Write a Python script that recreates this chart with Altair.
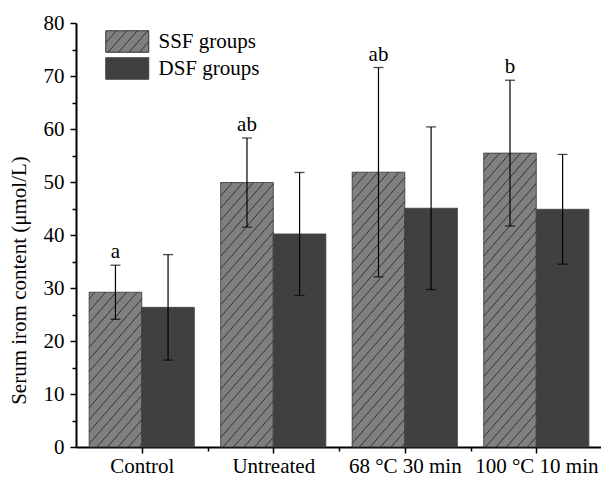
import json
import altair as alt
import pandas as pd

# ---- data ----
categories = ["Control", "Untreated", "68 °C 30 min", "100 °C 10 min"]
ssf_mean = [29.2, 49.9, 51.85, 55.45]
ssf_sd = [5.1, 8.4, 19.75, 13.75]
dsf_mean = [26.35, 40.2, 45.05, 44.85]
dsf_sd = [9.95, 11.6, 15.35, 10.35]
letters = ["a", "ab", "ab", "b"]
groups = ["SSF groups", "DSF groups"]

# ---- layout ----
W, H = 525, 424
XMAX = 3.992
YMAX = 80
PX_X = W / XMAX      # px per x unit
PX_Y = H / YMAX      # px per y unit
FONT = "Liberation Serif"
FS = 21

rows = []
for i, c in enumerate(categories):
    for g, m, s, off in ((groups[0], ssf_mean[i], ssf_sd[i], 0.1),
                         (groups[1], dsf_mean[i], dsf_sd[i], 0.5)):
        rows.append(dict(cat=c, group=g, mean=m, lo=m - s, hi=m + s,
                         x=i + off, x2=i + off + 0.4, xc=i + off + 0.2, y0=0,
                         letter=letters[i] if g == groups[0] else ""))
df = pd.DataFrame(rows)

# hatch segments (pattern "/" clipped to each SSF bar), derived from the bars
K = 1.15     # slope in px
D = 10.5     # horizontal spacing in px
hatch = []
for r in rows:
    if r["group"] != groups[0]:
        continue
    xl, xr = r["x"] * PX_X, r["x2"] * PX_X
    h = r["mean"] * PX_Y
    j0 = int((xl - h / K) // D) - 1
    j1 = int(xr // D) + 1
    for j in range(j0, j1 + 1):
        c = j * D
        a, b = max(xl, c), min(xr, c + h / K)
        if b - a > 0.5:
            hatch.append(dict(hx=a / PX_X, hx2=b / PX_X,
                              hy=K * (a - c) / PX_Y, hy2=K * (b - c) / PX_Y))
hdf = pd.DataFrame(hatch)

# legend symbol: rectangle (2:1) with hatch lines
parts = ["M-1,-1H3V1H-1Z"]
u = 21.5 / 2
dd = D / u
k = K
cc = -1 - 2 / k
while cc < 3:
    a, b = max(-1, cc), min(3, cc + 2 / k)
    if b - a > 0.05:
        ya, yb = 1 - k * (a - cc), 1 - k * (b - cc)
        parts.append(f"M{a:.3f},{ya:.3f}L{b:.3f},{yb:.3f}")
    cc += dd
sym_path = "".join(parts)

xscale = alt.Scale(domain=[0, XMAX], nice=False, zero=False)
yscale = alt.Scale(domain=[0, YMAX], nice=False)

label_expr = json.dumps(categories) + "[floor(datum.value)]"

legend_kw = dict(title=None, orient="none", legendX=29, legendY=7,
                 symbolType=sym_path, symbolSize=462, symbolStrokeWidth=1,
                 labelOffset=30.5, labelFont=FONT, labelFontSize=FS,
                 labelColor="black", rowPadding=0, symbolOpacity=1)

bars = alt.Chart(df).mark_bar(strokeWidth=0.8).encode(
    x=alt.X("x:Q", scale=xscale, axis=alt.Axis(
        orient="bottom", values=[0.5, 1.5, 2.5, 3.5], labelExpr=label_expr,
        title=None, grid=False, tickSize=6, tickWidth=1.5, domainWidth=2,
        domainColor="black", tickColor="black", labelColor="black",
        labelFont=FONT, labelFontSize=FS, labelPadding=2,
        labelOverlap=False, labelBound=False, labelFlush=False)),
    x2="x2:Q",
    y=alt.Y("mean:Q", scale=yscale, axis=alt.Axis(
        orient="left", values=list(range(0, 81, 10)), grid=False,
        title="Serum irom content (μmol/L)", titleFont=FONT, titleFontSize=FS,
        titleFontWeight="normal", titleColor="black", titleX=-57, titleY=257,
        titleAngle=-90, titleAlign="center", titleBaseline="middle",
        tickSize=6, tickWidth=1.5, domainWidth=2, domainColor="black",
        tickColor="black", labelColor="black", labelFont=FONT,
        labelFontSize=FS, labelPadding=6, labelFlush=False)),
    y2="y0:Q",
    fill=alt.Fill("group:N", scale=alt.Scale(domain=groups, range=["#808080", "#404040"]),
                  legend=alt.Legend(**legend_kw)),
    stroke=alt.Stroke("group:N", scale=alt.Scale(domain=groups, range=["#333333", "#404040"]),
                      legend=alt.Legend(**legend_kw)),
)

hatch_layer = alt.Chart(hdf).mark_rule(color="#2b2b2b", strokeWidth=0.9).encode(
    x=alt.X("hx:Q", scale=xscale, axis=alt.Axis(
        orient="bottom", values=[1, 2, 3], labels=False, domain=False,
        grid=False, title=None, tickSize=4, tickWidth=1.5, tickColor="black")),
    x2="hx2:Q",
    y=alt.Y("hy:Q", scale=yscale, axis=alt.Axis(
        orient="left", values=list(range(5, 80, 10)), labels=False, domain=False,
        grid=False, title=None, tickSize=4, tickWidth=1.5, tickColor="black")),
    y2="hy2:Q",
)

err = alt.Chart(df).mark_rule(color="black", strokeWidth=1.2).encode(
    x=alt.X("xc:Q", scale=xscale, axis=None),
    y=alt.Y("lo:Q", scale=yscale, axis=None),
    y2="hi:Q",
)
cap_hi = alt.Chart(df).mark_tick(color="black", orient="horizontal", size=10, thickness=1.3).encode(
    x=alt.X("xc:Q", scale=xscale, axis=None),
    y=alt.Y("hi:Q", scale=yscale, axis=None),
)
cap_lo = alt.Chart(df).mark_tick(color="black", orient="horizontal", size=10, thickness=1.3).encode(
    x=alt.X("xc:Q", scale=xscale, axis=None),
    y=alt.Y("lo:Q", scale=yscale, axis=None),
)
txt = alt.Chart(df).mark_text(font=FONT, fontSize=FS, color="black",
                              baseline="alphabetic", dy=-7).encode(
    x=alt.X("xc:Q", scale=xscale, axis=None),
    y=alt.Y("hi:Q", scale=yscale, axis=None),
    text="letter:N",
)

chart = alt.layer(bars, hatch_layer, err, cap_hi, cap_lo, txt).resolve_axis(
    x="independent", y="independent"
).properties(
    width=W, height=H,
    autosize=alt.AutoSizeParams(type="none"),
    padding={"left": 76, "top": 23, "right": 0, "bottom": 30},
    background="white",
).configure_view(stroke=None)

chart.save("out.html", embed_options={"renderer": "svg", "actions": False})
